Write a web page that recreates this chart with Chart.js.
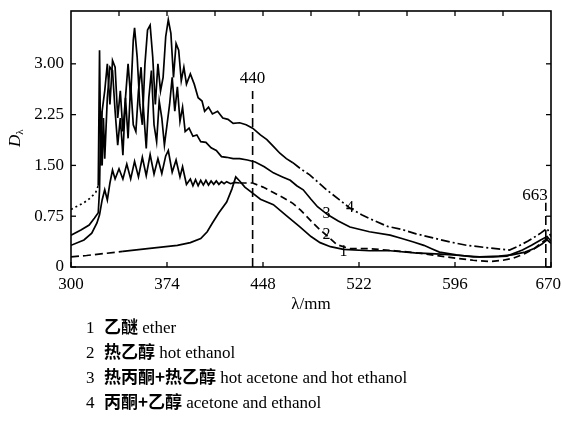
<!DOCTYPE html>
<html><head><meta charset="utf-8">
<script src="https://cdn.jsdelivr.net/npm/chart.js@4/dist/chart.umd.min.js"></script>
<style>
html,body{margin:0;padding:0;background:#fff;}
#wrap{position:relative;width:562px;height:429px;overflow:hidden;}
canvas{position:absolute;left:0;top:0;}
.leg{position:absolute;left:86px;font-family:"Liberation Serif",serif;font-size:17px;color:#000;white-space:nowrap;line-height:20px;}
.leg .n{display:inline-block;width:18px;}
.leg .zh{font-family:"Noto Sans CJK SC",sans-serif;font-weight:700;font-size:17px;}
</style></head><body>
<div id="wrap"><canvas id="c" width="562" height="429"></canvas><div id="legend"></div></div>
<script>
// ---- data (wavelength nm, optical density D) ----
const wl1 = [300,312,326,340,359,382,392,400,405,409,414,420,424,427,430,434,440,446,456,466,476,485,492,500,510,530,546,565,585,600,615,630,640,650,658,663,667,670];
const d1  = [0.15,0.17,0.2,0.23,0.27,0.32,0.36,0.42,0.52,0.65,0.8,0.96,1.15,1.33,1.27,1.18,1.09,1.0,0.92,0.76,0.6,0.45,0.36,0.3,0.26,0.24,0.24,0.21,0.19,0.17,0.15,0.16,0.18,0.22,0.28,0.34,0.4,0.35];

const wl2 = [300,310,316,320,322,324,326,328,330,332,334,337,340,343,346,349,352,355,358,361,364,367,370,373,375,378,381,384,386,389,392,394,396,398,400,402,404,406,408,410,412,414,416,418,420,423,426,430,436,440,448,456,464,471,477,482,487,492,498,505,515,530,550,570,585,597,610,623,633,641,650,657,662,667,670];
const d2  = [0.32,0.4,0.5,0.65,0.77,0.99,1.14,0.99,1.24,1.43,1.3,1.45,1.3,1.52,1.3,1.56,1.33,1.62,1.35,1.66,1.37,1.6,1.38,1.64,1.72,1.4,1.58,1.33,1.48,1.22,1.3,1.2,1.29,1.2,1.28,1.21,1.28,1.21,1.27,1.22,1.27,1.22,1.26,1.23,1.26,1.23,1.25,1.24,1.24,1.24,1.18,1.1,1.02,0.94,0.84,0.74,0.64,0.55,0.45,0.33,0.27,0.27,0.24,0.2,0.16,0.13,0.1,0.08,0.1,0.13,0.2,0.27,0.35,0.42,0.36];

const wl3 = [300,308,314,318,321,322,323,324,325,326,328,330,332,334,336,338,340,342,344,346,348,350,352,354,356,358,360,362,364,366,368,370,372,374,376,378,380,382,384,386,388,391,394,397,400,404,408,412,416,420,425,430,436,442,449,456,463,469,474,479,485,490,498,506,515,530,546,555,564,572,578,584,597,610,625,636,648,655,662,667,670];
const d3  = [0.47,0.55,0.62,0.72,0.8,1.14,2.3,1.5,2.2,1.6,2.5,2.95,2.9,2.3,1.8,2.2,1.65,2.5,1.9,2.7,2.1,2.0,2.6,2.95,2.3,1.75,2.5,2.9,2.1,1.85,2.45,2.2,1.8,2.1,2.4,2.8,2.3,2.66,2.15,2.36,2.0,2.05,1.93,1.95,1.85,1.84,1.76,1.72,1.63,1.62,1.6,1.6,1.58,1.55,1.48,1.39,1.33,1.28,1.2,1.14,1.0,0.89,0.77,0.68,0.59,0.52,0.47,0.42,0.37,0.32,0.27,0.22,0.18,0.15,0.15,0.16,0.25,0.32,0.4,0.45,0.38];

const wl4 = [300,305,310,315,319,321,322,323,324,326,328,330,332,334,336,338,340,342,344,346,348,349,351,353,355,357,359,361,363,365,367,369,371,373,375,377,379,381,383,385,387,389,392,395,398,401,403,406,409,413,417,421,425,430,435,440,446,451,456,461,466,471,477,484,490,497,507,515,524,533,544,554,566,579,592,605,623,638,644,652,658,662,667,670];
const d4  = [0.85,0.9,0.95,1.02,1.1,1.2,3.2,1.5,2.3,2.6,3.0,2.4,3.05,2.95,2.2,2.6,2.0,2.5,3.0,2.5,3.35,3.53,3.1,2.4,2.1,3.0,3.5,3.57,3.1,2.4,3.0,2.6,2.8,3.4,3.65,3.45,2.8,3.3,3.2,2.75,2.95,2.7,2.85,2.7,2.5,2.45,2.3,2.36,2.26,2.3,2.2,2.18,2.12,2.13,2.1,2.05,1.95,1.88,1.78,1.68,1.6,1.54,1.45,1.36,1.26,1.14,0.99,0.87,0.77,0.69,0.6,0.56,0.49,0.43,0.37,0.32,0.28,0.25,0.3,0.38,0.45,0.5,0.57,0.45];

const curveNames  = ['1','2','3','4'];
const curveLabelX = [510, 497, 497, 515];
const curveLabelY = [0.22, 0.47, 0.78, 0.88];

const xTicks    = [300,374,448,522,596,670];
const xTopTicks = [337,374,411,448,485,522,559,596,633];
const yTicks    = [0,0.75,1.5,2.25,3.0];

const markerAt    = [440, 666];
const markerTop   = [2.6, 0.95];
const markerText  = ['440','663'];
const markerTextY = [2.79, 1.06];

const legendNum = ['1','2','3','4'];
const legendZh  = ['乙醚','热乙醇','热丙酮+热乙醇','丙酮+乙醇'];
const legendEn  = ['ether','hot ethanol','hot acetone and hot ethanol','acetone and ethanol'];

const xTitle = 'λ/mm';
const yTitleMain = 'D';
const yTitleSub = 'λ';

// ---- build ----
const pts = (w, d) => w.map((x, i) => ({x, y: d[i]}));

const datasets = [
  { label: curveNames[0], data: pts(wl1, d1), segment: { borderDash: c => c.p0.parsed.x < 335 ? [8,4] : undefined } },
  { label: curveNames[1], data: pts(wl2, d2), segment: { borderDash: c => c.p0.parsed.x >= 428 ? [7,4] : undefined } },
  { label: curveNames[2], data: pts(wl3, d3) },
  { label: curveNames[3], data: pts(wl4, d4), segment: { borderDash: c => c.p0.parsed.x < 320 ? [2,3] : (c.p0.parsed.x >= 470 ? [9,3,2,3] : undefined) } },
];
markerAt.forEach((m, i) => datasets.push({ label: 'm' + i, data: [{x: m, y: 0}, {x: m, y: markerTop[i]}], borderDash: [9,5], borderWidth: 1.6 }));
datasets.forEach(d => { d.borderColor = '#000'; d.backgroundColor = '#000'; d.fill = false; if (!d.borderWidth) d.borderWidth = 1.7; });

const noScalePad = s => { s.paddingLeft = 0; s.paddingRight = 0; s.paddingTop = 0; s.paddingBottom = 0; };

const deco = {
  id: 'deco',
  afterDatasetsDraw(chart) {
    const ctx = chart.ctx, a = chart.chartArea, xs = chart.scales.x, ys = chart.scales.y;
    const W = chart.width;
    ctx.save();
    ctx.strokeStyle = '#000'; ctx.fillStyle = '#000';
    ctx.lineWidth = 1.6;
    ctx.strokeRect(a.left, a.top, a.right - a.left, a.bottom - a.top);
    ctx.lineWidth = 1.3;
    const ln = (x1, y1, x2, y2) => { ctx.beginPath(); ctx.moveTo(x1, y1); ctx.lineTo(x2, y2); ctx.stroke(); };
    xTicks.forEach(v => { const p = xs.getPixelForValue(v); ln(p, a.bottom, p, a.bottom - 5); });
    xTopTicks.forEach(v => { const p = xs.getPixelForValue(v); ln(p, a.top, p, a.top + 5); });
    yTicks.forEach(v => { const p = ys.getPixelForValue(v); ln(a.left, p, a.left + 5, p); ln(a.right, p, a.right - 5, p); });
    // x tick labels (kept inside the window)
    ctx.font = '17px "Liberation Serif"'; ctx.textBaseline = 'middle'; ctx.textAlign = 'left';
    xTicks.forEach(v => {
      const t = String(v), tw = ctx.measureText(t).width;
      let x0 = xs.getPixelForValue(v) - tw / 2;
      x0 = Math.min(x0, W - tw - 1);
      ctx.fillText(t, x0, a.bottom + 18);
    });
    ctx.font = '16px "Liberation Serif"'; ctx.textAlign = 'center';
    curveNames.forEach((n, i) => ctx.fillText(n, xs.getPixelForValue(curveLabelX[i]), ys.getPixelForValue(curveLabelY[i])));
    ctx.font = '17px "Liberation Serif"';
    ctx.fillText(markerText[0], xs.getPixelForValue(markerAt[0]), ys.getPixelForValue(markerTextY[0]));
    ctx.textAlign = 'right';
    ctx.fillText(markerText[1], xs.getPixelForValue(markerAt[1]) + 2, ys.getPixelForValue(markerTextY[1]));
    ctx.textAlign = 'center';
    ctx.fillText(xTitle, (a.left + a.right) / 2, a.bottom + 38);
    ctx.translate(16, 137); ctx.rotate(-Math.PI / 2);
    ctx.font = 'italic 17px "Liberation Serif"'; ctx.textAlign = 'left';
    const w = ctx.measureText(yTitleMain).width;
    ctx.fillText(yTitleMain, -10, 0);
    ctx.font = '11px "Liberation Serif"';
    ctx.fillText(yTitleSub, -10 + w, 4);
    ctx.restore();
  }
};

new Chart(document.getElementById('c'), {
  type: 'line',
  data: { datasets },
  options: {
    responsive: false, animation: false,
    layout: { padding: { left: 0, top: 11, right: 11, bottom: 122 }, autoPadding: false },
    plugins: { legend: { display: false }, tooltip: { enabled: false } },
    elements: { point: { radius: 0 }, line: { tension: 0 } },
    scales: {
      x: {
        type: 'linear', min: 300, max: 670,
        afterBuildTicks: s => { s.ticks = xTicks.map(v => ({ value: v })); },
        afterFit: s => { s.height = 40; noScalePad(s); },
        grid: { display: false, drawTicks: false }, border: { display: false },
        ticks: { display: false }
      },
      y: {
        type: 'linear', min: 0, max: 3.78,
        afterBuildTicks: s => { s.ticks = yTicks.map(v => ({ value: v })); },
        afterFit: s => { s.width = 71; noScalePad(s); },
        grid: { display: false, drawTicks: false }, border: { display: false },
        ticks: { padding: 7, color: '#000', autoSkip: false, font: { family: 'Liberation Serif', size: 17 }, callback: v => v === 0 ? '0' : v.toFixed(2) }
      }
    }
  },
  plugins: [deco]
});

const legendTops = [316, 341, 366, 391];
const lg = document.getElementById('legend');
legendNum.forEach((n, i) => {
  const d = document.createElement('div');
  d.className = 'leg'; d.style.top = legendTops[i] + 'px';
  d.innerHTML = '<span class="n">' + n + '</span><span class="zh">' + legendZh[i] + '</span> ' + legendEn[i];
  lg.appendChild(d);
});
</script>
</body></html>
